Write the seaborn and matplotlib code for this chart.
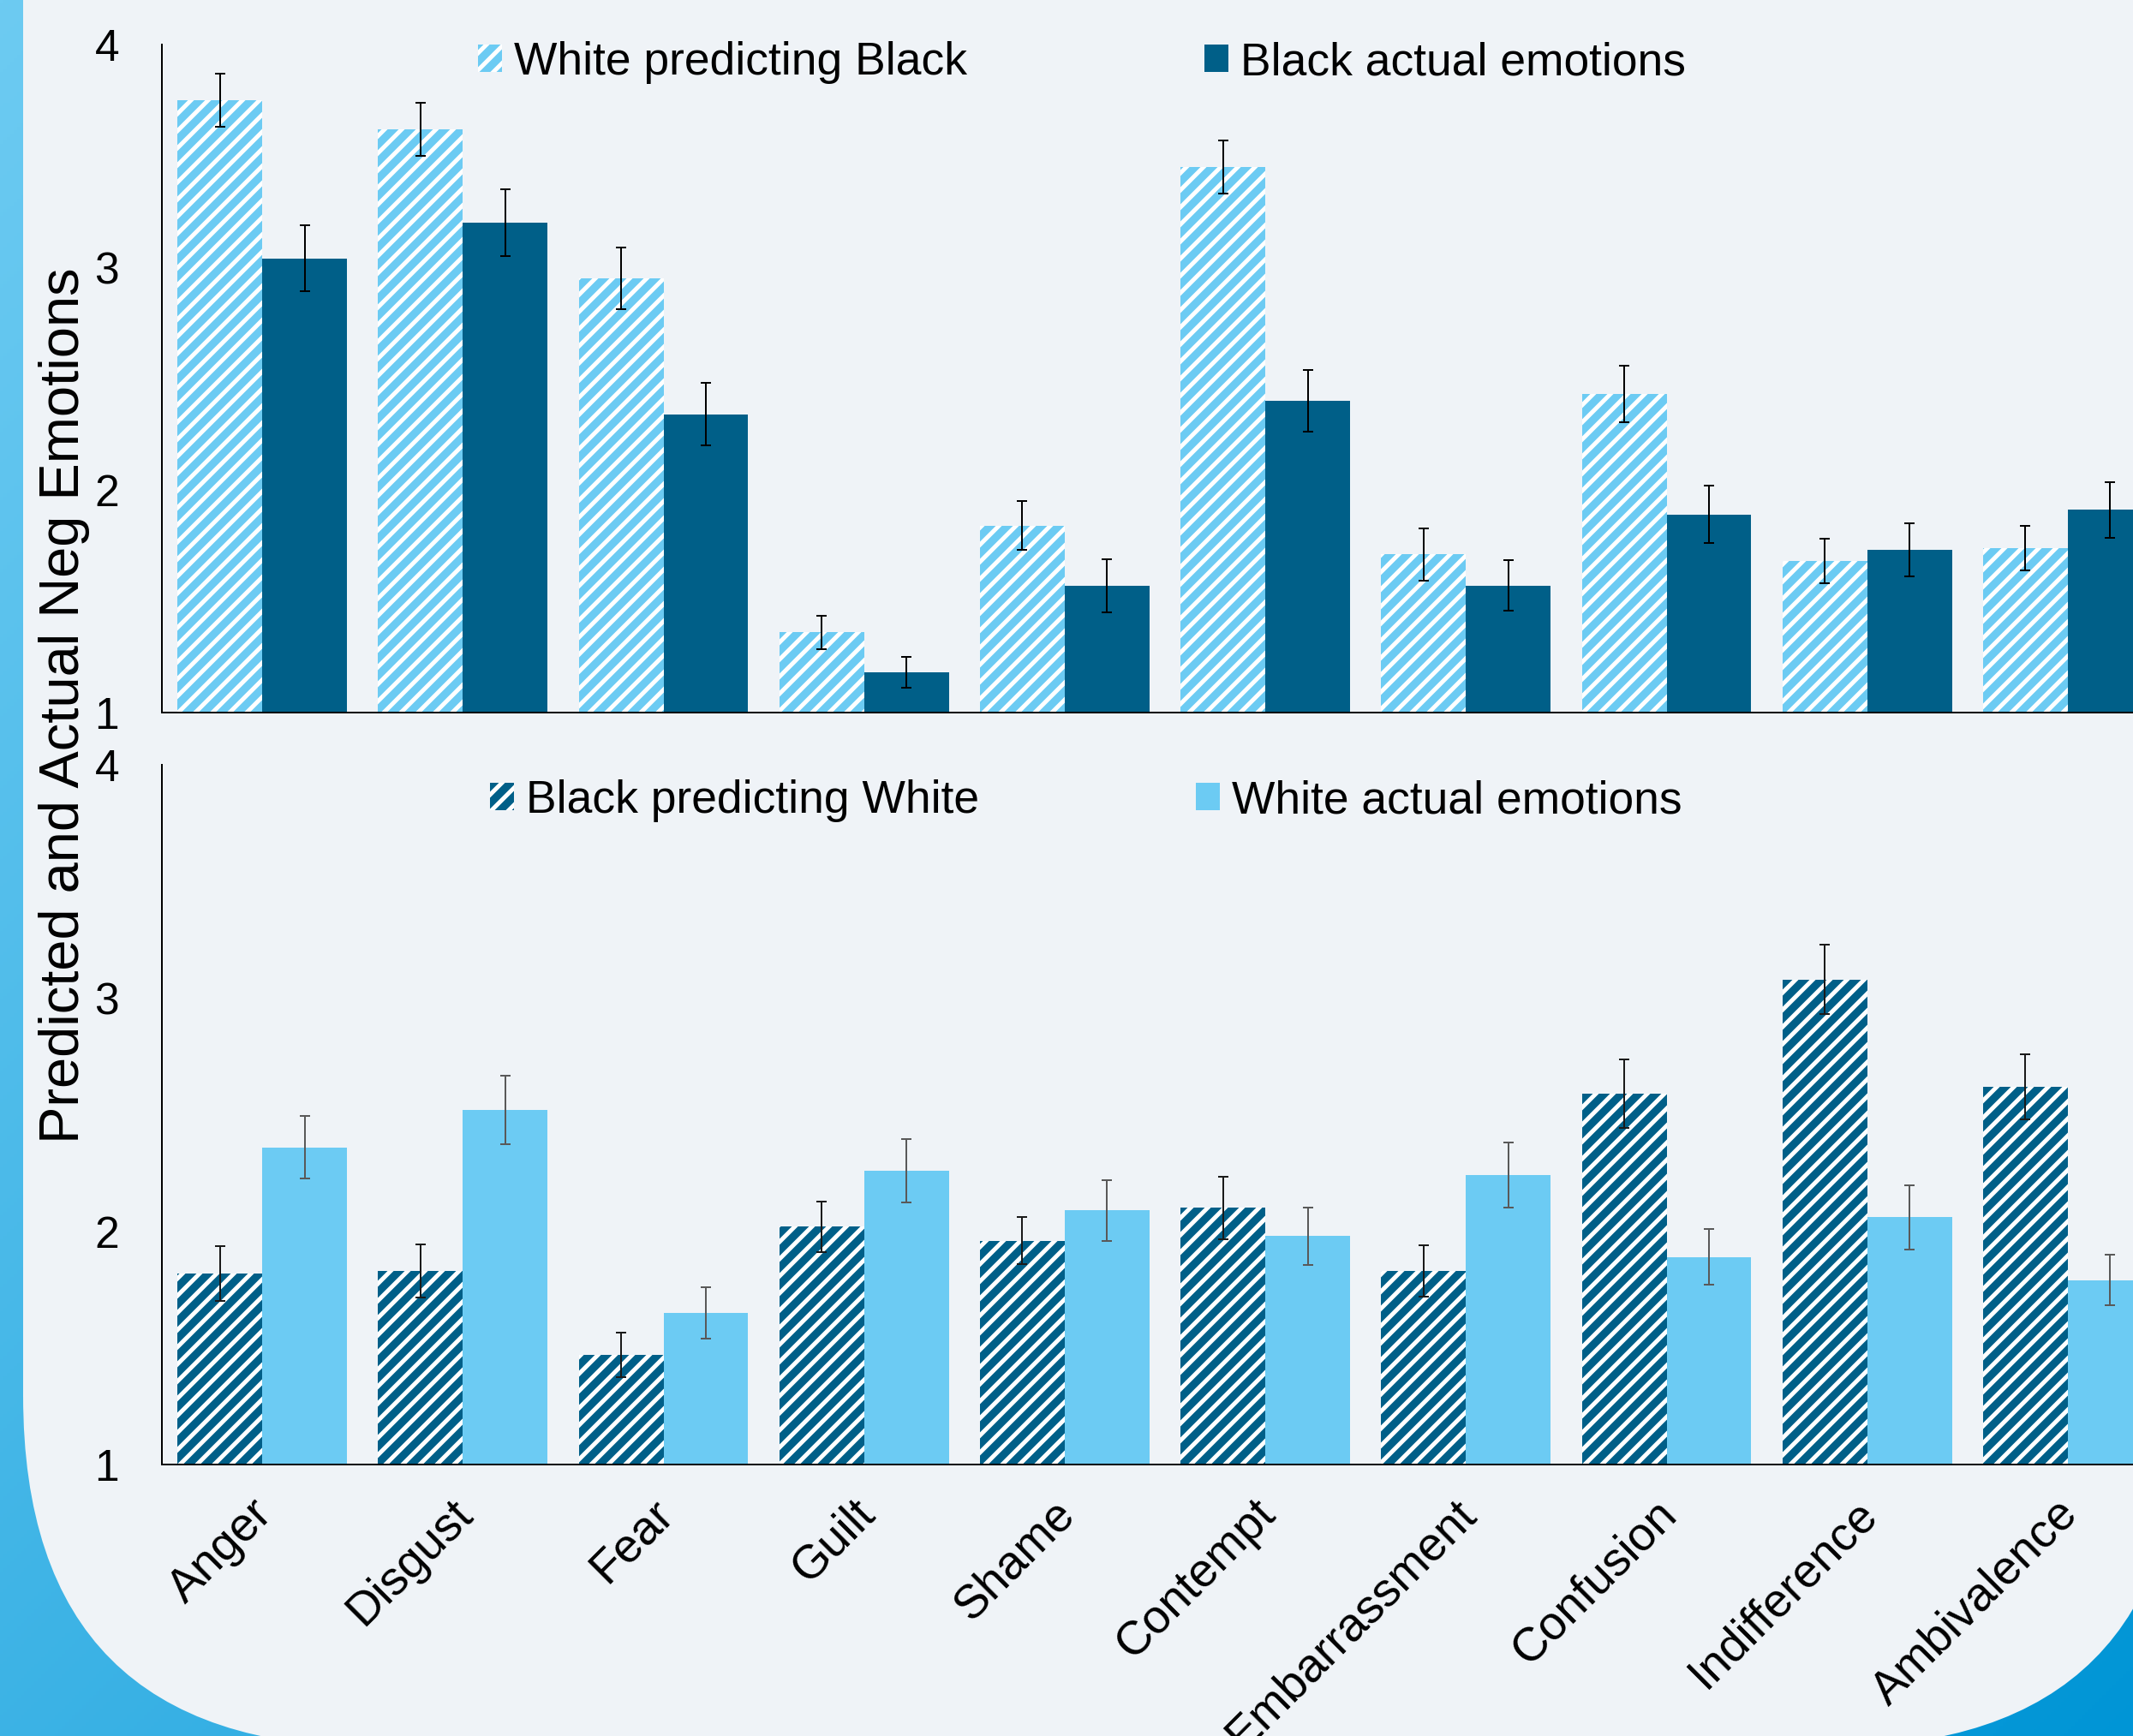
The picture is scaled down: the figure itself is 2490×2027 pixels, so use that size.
import numpy as np
import pandas as pd
import matplotlib
matplotlib.use("Agg")
import matplotlib.pyplot as plt
import matplotlib.transforms as mtransforms
from matplotlib.patches import FancyBboxPatch
import seaborn as sns

# values
emotions = ["Anger", "Disgust", "Fear", "Guilt", "Shame", "Contempt",
            "Embarrassment", "Confusion", "Indifference", "Ambivalence"]

white_pred_black = [3.75, 3.62, 2.95, 1.36, 1.84, 3.45, 1.71, 2.43, 1.68, 1.74]
white_pred_black_err = [0.12, 0.12, 0.14, 0.076, 0.11, 0.12, 0.116, 0.128, 0.10, 0.10]
black_actual = [3.04, 3.20, 2.34, 1.18, 1.57, 2.40, 1.57, 1.89, 1.73, 1.91]
black_actual_err = [0.147, 0.15, 0.14, 0.07, 0.12, 0.14, 0.113, 0.13, 0.12, 0.124]

black_pred_white = [1.82, 1.83, 1.47, 2.02, 1.96, 2.10, 1.83, 2.59, 3.08, 2.62]
black_pred_white_err = [0.117, 0.114, 0.096, 0.108, 0.10, 0.134, 0.11, 0.146, 0.149, 0.14]
white_actual = [2.36, 2.52, 1.65, 2.26, 2.09, 1.98, 2.24, 1.89, 2.06, 1.79]
white_actual_err = [0.134, 0.146, 0.11, 0.137, 0.13, 0.123, 0.14, 0.12, 0.137, 0.108]

top_labels = ["White predicting Black", "Black actual emotions"]
bottom_labels = ["Black predicting White", "White actual emotions"]
y_ticks = [1, 2, 3, 4]

sns.set_theme(style="white")
plt.rcParams['font.family'] = ['Liberation Sans', 'DejaVu Sans']
plt.rcParams['hatch.linewidth'] = 3.0
for k in ['text.color', 'axes.labelcolor', 'xtick.color', 'ytick.color']:
    plt.rcParams[k] = 'black'

light = "#6ccbf3"
dark = "#005f88"
panel_bg = "#eff3f7"

W, H, DPI = 2490, 2027, 120
fig = plt.figure(figsize=(W / DPI, H / DPI), dpi=DPI)

# decorative background: blue gradient with a big rounded light panel on top
bg = fig.add_axes([0, 0, 1, 1], zorder=-10)
yy, xx = np.mgrid[0:H:4, 0:W:4]
t = 0.55 * xx / W + 0.45 * yy / H
c0 = np.array([0x6d, 0xcb, 0xf2]) / 255
c1 = np.array([0x00, 0x95, 0xd6]) / 255
grad = c0 + (c1 - c0) * t[..., None]
bg.imshow(grad, extent=(0, W, H, 0), aspect='auto')
bg.add_patch(FancyBboxPatch((27, -600), 2520, 2640,
                            boxstyle="round,pad=0,rounding_size=410",
                            fc=panel_bg, ec='none'))
bg.set_xlim(0, W)
bg.set_ylim(H, 0)
bg.axis('off')

ax1 = fig.add_axes([189 / W, 1 - 832 / H, 2342 / W, 780 / H])
ax2 = fig.add_axes([189 / W, 1 - 1710 / H, 2342 / W, 817 / H])


def panel(ax, labels, vals, errs, colors, hatch_idx, err_colors):
    df = pd.DataFrame({
        "emotion": emotions * 2,
        "group": [labels[0]] * len(emotions) + [labels[1]] * len(emotions),
        "score": vals[0] + vals[1],
    })
    sns.barplot(data=df, x="emotion", y="score", hue="group", hue_order=labels,
                palette=dict(zip(labels, colors)), width=0.845, gap=0,
                errorbar=None, saturation=1, legend=False, ax=ax)
    bars = list(ax.containers)
    for i, cont in enumerate(bars):
        for p in cont:
            p.set_linewidth(0)
            if i == hatch_idx:
                p.set_hatch('//')
                p.set_edgecolor('white')
        xs = [p.get_x() + p.get_width() / 2 for p in cont]
        ax.errorbar(xs, vals[i], yerr=errs[i], fmt='none', ecolor=err_colors[i],
                    elinewidth=1.2, capsize=3.8, capthick=1.2, zorder=5)
    ax.set_xlim(-0.5, len(emotions) - 0.5)
    ax.set_ylim(1, 4)
    ax.set_yticks(y_ticks)
    ax.set_facecolor('none')
    ax.set_xlabel('')
    ax.set_ylabel('')
    for s in ['top', 'right']:
        ax.spines[s].set_visible(False)
    for s in ['left', 'bottom']:
        ax.spines[s].set_color('black')
        ax.spines[s].set_linewidth(1.2)
    ax.tick_params(axis='both', length=0)
    ax.tick_params(axis='y', labelsize=31, pad=30)
    return bars


c_top = panel(ax1, top_labels, [white_pred_black, black_actual],
              [white_pred_black_err, black_actual_err], [light, dark], 0,
              ['black', 'black'])
c_bot = panel(ax2, bottom_labels, [black_pred_white, white_actual],
              [black_pred_white_err, white_actual_err], [dark, light], 0,
              ['#1a1a1a', '#595959'])

ax1.tick_params(axis='x', labelbottom=False)
ax2.tick_params(axis='x', labelsize=33, pad=30)
offset = mtransforms.ScaledTranslation(4 / DPI, 0, fig.dpi_scale_trans)
for lab in ax2.get_xticklabels():
    lab.set_rotation(45)
    lab.set_ha('right')
    lab.set_va('center')
    lab.set_rotation_mode('anchor')
    lab.set_transform(lab.get_transform() + offset)

leg_kw = dict(ncol=2, frameon=False, fontsize=32, handlelength=0.53,
              handleheight=0.53, handletextpad=0.25, borderpad=0,
              borderaxespad=0, loc='center left', bbox_transform=fig.transFigure)
ax1.legend(c_top, top_labels, columnspacing=5.2,
           bbox_to_anchor=(558 / W, 1 - 73 / H), **leg_kw)
ax2.legend(c_bot, bottom_labels, columnspacing=4.75,
           bbox_to_anchor=(572 / W, 1 - 935 / H), **leg_kw)

fig.text(75.5 / W, 1 - 824 / H, "Predicted and Actual Neg Emotions",
         rotation=90, ha='center', va='center', fontsize=39)

fig.savefig("out.png", dpi=DPI)
